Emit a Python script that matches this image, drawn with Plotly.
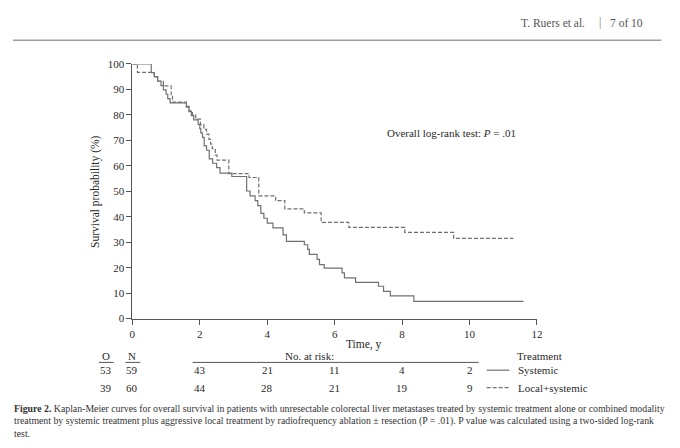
import plotly.graph_objects as go

# ---- data ----
t_sys = [0, 0.56, 0.65, 0.75, 0.85, 0.92, 1.0, 1.05, 1.12, 1.6, 1.68, 1.75, 1.82, 1.95, 2.0,
         2.03, 2.08, 2.13, 2.2, 2.28, 2.38, 2.5, 2.6, 2.95, 3.39, 3.49, 3.64, 3.72, 3.81, 3.9,
         4.0, 4.17, 4.47, 4.57, 5.1, 5.2, 5.25, 5.48, 5.55, 5.69, 6.22, 6.29, 6.62, 7.3, 7.45,
         7.65, 8.35, 11.6]
s_sys = [100, 96.6, 94.9, 93.2, 91.5, 89.8, 88.1, 86.4, 84.7, 83.0, 81.3, 79.7, 78.0, 76.3, 74.6,
         72.9, 71.2, 67.8, 66.1, 62.7, 61.0, 59.3, 57.1, 55.8, 50.1, 48.2, 46.3, 44.4, 41.3, 39.4,
         37.5, 35.6, 32.9, 30.3, 29.0, 27.2, 25.2, 23.3, 21.2, 19.8, 18.0, 16.0, 14.2, 12.7, 10.7,
         8.9, 6.8, 6.8]

t_loc = [0, 0.15, 0.65, 0.75, 0.92, 1.15, 1.19, 1.6, 1.68, 1.78, 1.88, 2.02, 2.12, 2.2, 2.27,
         2.32, 2.37, 2.46, 2.51, 2.86, 3.46, 3.75, 4.25, 4.52, 5.1, 5.6, 6.42, 8.08, 9.53, 11.3]
s_loc = [100, 96.7, 95.0, 93.3, 91.4, 87.6, 85.0, 83.3, 81.6, 80.0, 78.3, 76.2, 74.3, 72.4, 70.4,
         68.5, 66.7, 64.2, 62.2, 56.9, 55.4, 48.2, 46.3, 43.1, 41.5, 37.8, 35.8, 33.9, 31.5, 31.5]

risk_times = [2, 4, 6, 8, 10]
risk_sys = [43, 21, 11, 4, 2]
risk_loc = [44, 28, 21, 19, 9]
observed = [53, 39]
numbers = [59, 60]
group_names = ["Systemic", "Local+systemic"]

x_ticks = [0, 2, 4, 6, 8, 10, 12]
y_ticks = [0, 10, 20, 30, 40, 50, 60, 70, 80, 90, 100]

caption_lines = [
    "<b>Figure 2.</b> Kaplan-Meier curves for overall survival in patients with unresectable colorectal liver metastases treated by systemic treatment alone or combined modality",
    "treatment by systemic treatment plus aggressive local treatment by radiofrequency ablation \u00b1 resection (P = .01). P value was calculated using a two-sided log-rank",
    "test.",
]

# ---- layout helpers (page body has an 8px margin, so positions are compensated) ----
W, H = 680, 448
OFF = 8
def px(x):
    return (x - OFF) / W
def py(y):
    return 1 - (y - OFF) / H

SERIF = "Liberation Serif"
CURVE = "#707070"
AX = "#555555"
TXT = "#2a2a2a"

fig = go.Figure()
fig.add_trace(go.Scatter(x=t_sys, y=s_sys, mode="lines", line=dict(shape="hv", color=CURVE, width=1.2),
                         name=group_names[0], showlegend=False, hoverinfo="skip"))
fig.add_trace(go.Scatter(x=t_loc, y=s_loc, mode="lines",
                         line=dict(shape="hv", color=CURVE, width=1.2, dash="4px,2px"),
                         name=group_names[1], showlegend=False, hoverinfo="skip"))

x0p, x1p = 131, 541
y0p, y1p = 321, 59.3

fig.update_layout(
    width=W, height=H, margin=dict(l=0, r=0, t=0, b=0),
    paper_bgcolor="white", plot_bgcolor="white",
    font=dict(family=SERIF, size=11, color=TXT),
    xaxis=dict(domain=[px(x0p), px(x1p)], range=[0, 12], tickvals=x_ticks,
               showgrid=False, zeroline=False, showline=True, linecolor=AX, linewidth=1,
               ticks="outside", ticklen=5, tickcolor=AX, tickfont=dict(family=SERIF, size=11, color=TXT)),
    yaxis=dict(domain=[py(y0p), py(y1p)], range=[0, 100], tickvals=y_ticks,
               showgrid=False, zeroline=False, showline=True, linecolor=AX, linewidth=1,
               ticks="outside", ticklen=5, tickcolor=AX, tickfont=dict(family=SERIF, size=11, color=TXT)),
)

ann = []
def text(x, y, s, size=11, xanchor="center", color=TXT, family=SERIF, **kw):
    ann.append(dict(x=px(x), y=py(y), xref="paper", yref="paper", text=s, showarrow=False,
                    xanchor=xanchor, yanchor="middle", font=dict(family=family, size=size, color=color), **kw))

# header
text(523, 17, "T. Ruers et al.", size=11.5, xanchor="left", color="#555555")
text(605, 17, "|", size=11.5, color="#777777")
text(650, 17, "7 of 10", size=11.5, xanchor="right", color="#555555")

# axis titles and test annotation
text(93, 190, "Survival probability (%)", size=11.5, textangle=-90)
text(366, 348, "Time, y", size=11.5)
text(387, 130, "Overall log-rank test: <i>P</i> = .01", size=11, xanchor="left")

# at-risk table header
row_h, row1, row2 = 359, 374, 392
text(104, row_h, "O")
text(131, row_h, "N")
text(310, row_h, "No. at risk:")
text(519, row_h, "Treatment", xanchor="left")
for i, yy in enumerate([row1, row2]):
    text(104, yy, str(observed[i]))
    text(131, yy, str(numbers[i]))
    text(520, yy, group_names[i], xanchor="left")
for tt, a, b in zip(risk_times, risk_sys, risk_loc):
    for val, yy in [(a, row1), (b, row2)]:
        ann.append(dict(x=tt, y=py(yy), xref="x", yref="paper", text=str(val), showarrow=False,
                        xanchor="center", yanchor="middle", font=dict(family=SERIF, size=11, color=TXT)))

# caption
for i, line in enumerate(caption_lines):
    text(9, 413 + 13 * i, line, size=9.8, xanchor="left", color="#333333")

fig.update_layout(annotations=ann)

shapes = []
def hline(xa, xb, y, color=AX, width=1, dash=None):
    shapes.append(dict(type="line", xref="paper", yref="paper", x0=px(xa), x1=px(xb), y0=py(y), y1=py(y),
                       line=dict(color=color, width=width, dash=dash)))
hline(10, 667, 35, color="#9a9ea6", width=1.5)
hline(97, 112, 366)
hline(124, 139, 366)
hline(192, 482, 366)
hline(490, 513, row1, color=CURVE, width=1.2)
hline(490, 513, row2, color=CURVE, width=1.2, dash="4px,2px")
fig.update_layout(shapes=shapes)

fig.write_html("out.html")
